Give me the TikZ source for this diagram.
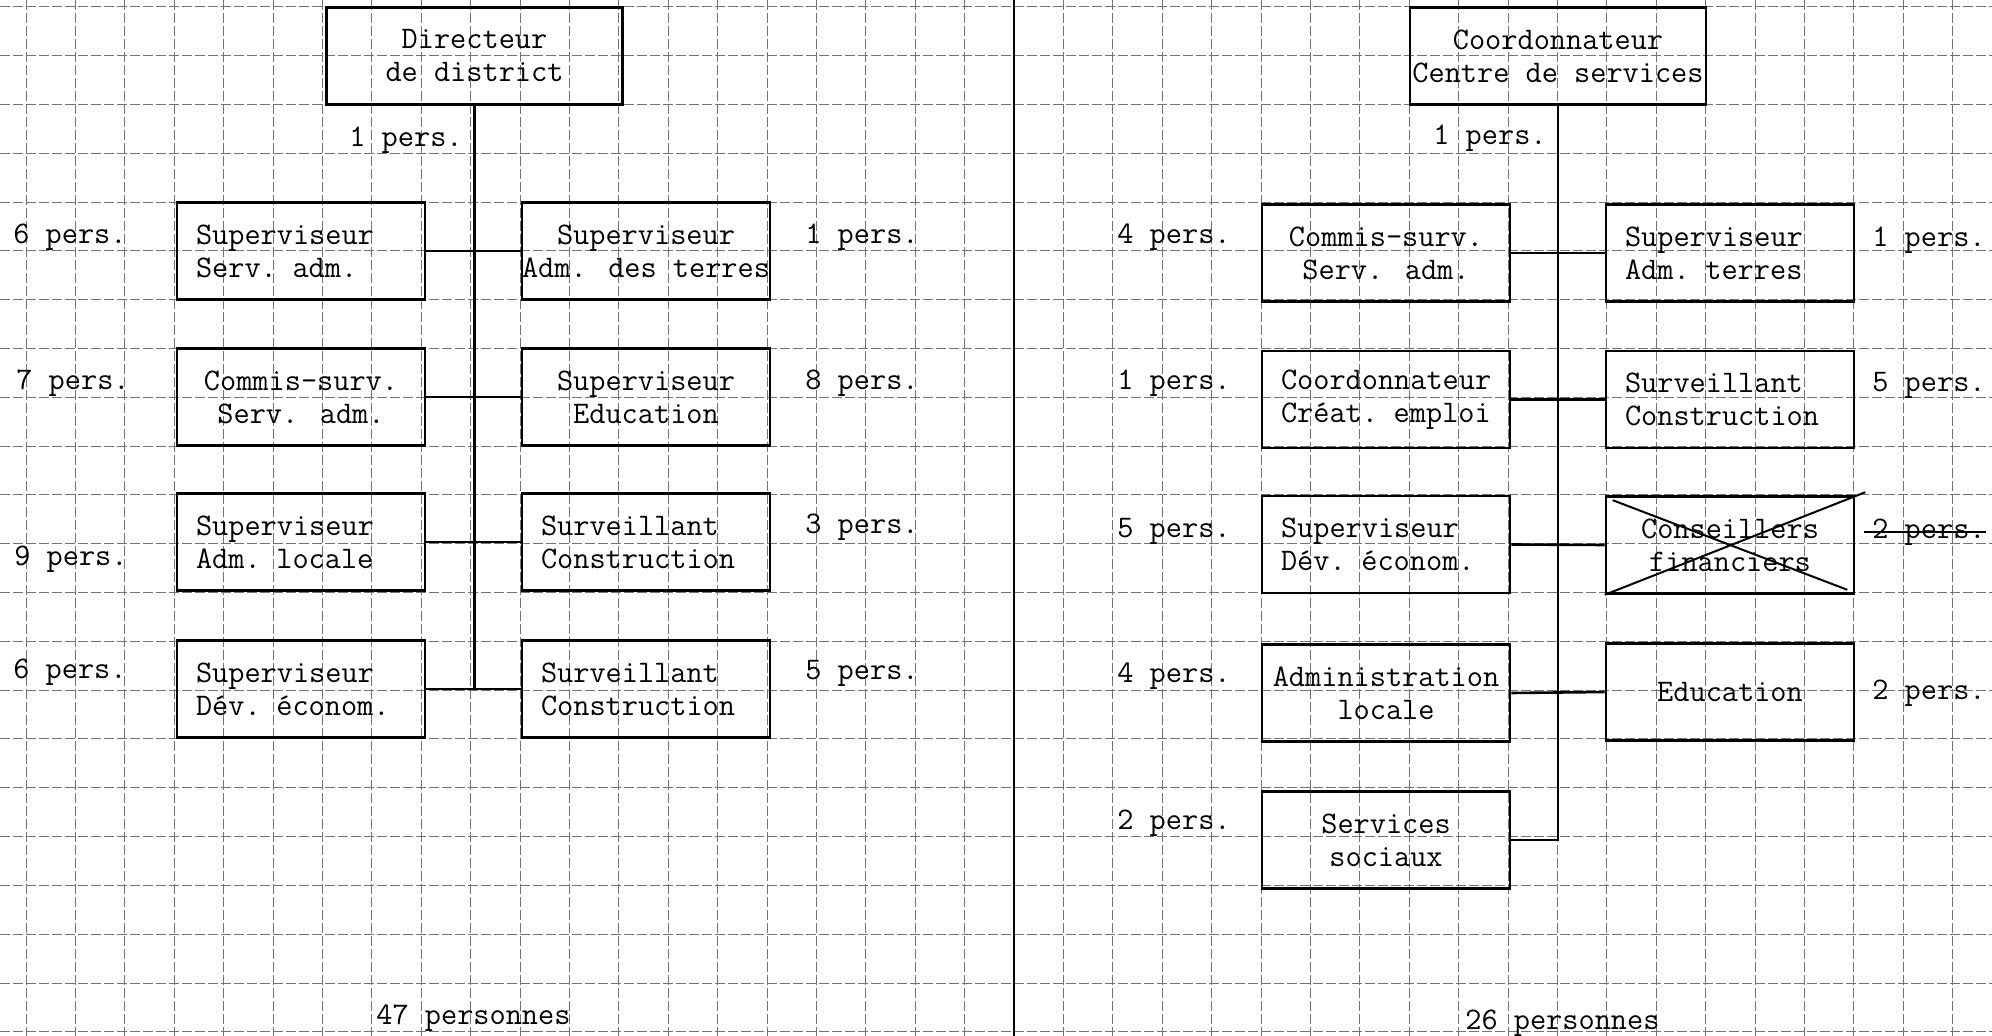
\documentclass[tikz,border=0pt]{standalone}
\usepackage{tikz}
\usetikzlibrary{calc,positioning}

\newcommand{\dactylo}{\fontsize{15.7}{16.5}\selectfont\ttfamily}

\begin{document}
\begin{tikzpicture}[x=0.5pt, y=-0.5pt,
  poste/.style={draw, line width=1.3pt, inner sep=0pt, minimum width=124pt,
    minimum height=48.5pt, align=center, font=\dactylo},
  chef/.style={poste, minimum width=148pt},
  gauche/.style={align=left, text width=105pt},
  effectif/.style={anchor=west, inner sep=0pt, font=\dactylo},
  lien/.style={line width=1.3pt},
  quadrille/.style={black!55, line width=0.5pt, dash pattern=on 5pt off 1.5pt}]
\useasboundingbox (0,0) rectangle (1992,1036);
\clip (0,0) rectangle (1992,1036);

\foreach \k in {0,...,39}
  \draw[quadrille] ({26+49.4*\k},0) -- ({26+49.4*\k},1036);
\foreach \k in {0,...,21}
  \draw[quadrille] (0,{7+48.8*\k}) -- (1992,{7+48.8*\k});
\draw[line width=1pt] (1014,0) -- (1014,1036);

% district
\node[chef] (Dir) at (474.5,56) {Directeur\\de district};
\node[poste,gauche] (Gauche1) at (301,251) {Superviseur\\Serv. adm.};
\node[poste] (Gauche2) at (301,397) {Commis-surv.\\Serv. adm.};
\node[poste,gauche] (Gauche3) at (301,542) {Superviseur\\Adm. locale};
\node[poste,gauche] (Gauche4) at (301,689) {Superviseur\\Dév. économ.};
\node[poste] (Droite1) at (646,251) {Superviseur\\Adm. des terres};
\node[poste] (Droite2) at (646,397) {Superviseur\\Education};
\node[poste,gauche] (Droite3) at (646,542) {Surveillant\\Construction};
\node[poste,gauche] (Droite4) at (646,689) {Surveillant\\Construction};

\draw[lien] (Dir.south) -- (Dir.south |- Gauche4.east);
\foreach \i in {1,...,4}
  \draw[lien] (Gauche\i.east) -- (Droite\i.west);

\node[effectif] (PersDir) at (349,140) {1 pers.};
\node[effectif] (PersG1) at (13,237) {6 pers.};
\node[effectif] (PersG2) at (16,383) {7 pers.};
\node[effectif] (PersG3) at (14,559) {9 pers.};
\node[effectif] (PersG4) at (13,672) {6 pers.};
\node[effectif] (PersD1) at (805,237) {1 pers.};
\node[effectif] (PersD2) at (805,383) {8 pers.};
\node[effectif] (PersD3) at (805,527) {3 pers.};
\node[effectif] (PersD4) at (805,673) {5 pers.};
\node[effectif] (Total1) at (376,1018) {47 personnes};

% centre de services
\node[chef] (Coord) at (1558,56) {Coordonnateur\\Centre de services};
\node[poste] (CGauche1) at (1386,253) {Commis-surv.\\Serv. adm.};
\node[poste,gauche] (CGauche2) at (1386,399.5) {Coordonnateur\\Créat. emploi};
\node[poste,gauche] (CGauche3) at (1386,544.5) {Superviseur\\Dév. économ.};
\node[poste] (CGauche4) at (1386,693) {Administration\\locale};
\node[poste] (CGauche5) at (1386,840) {Services\\sociaux};
\node[poste,gauche] (CDroite1) at (1730,253) {Superviseur\\Adm. terres};
\node[poste,gauche] (CDroite2) at (1730,399.5) {Surveillant\\Construction};
\node[poste] (CDroite3) at (1730,545) {Conseillers\\financiers};
\node[poste] (CDroite4) at (1730,692) {Education};

\draw[lien] (Coord.south) -- (Coord.south |- CGauche5.east) -- (CGauche5.east);
\foreach \i in {1,...,4}
  \draw[lien] (CGauche\i.east) -- (CDroite\i.west);
\draw[line width=1pt] ($(CDroite3.north west)+(8,5)$) -- ($(CDroite3.south east)+(-8,-5)$)
  (CDroite3.south west) -- ($(CDroite3.north east)+(10,-3)$);

\node[effectif] (PersCoord) at (1433,138) {1 pers.};
\node[effectif] (PersCG1) at (1117,237) {4 pers.};
\node[effectif] (PersCG2) at (1117,383) {1 pers.};
\node[effectif] (PersCG3) at (1117,531) {5 pers.};
\node[effectif] (PersCG4) at (1117,676) {4 pers.};
\node[effectif] (PersCG5) at (1117,823) {2 pers.};
\node[effectif] (PersCD1) at (1872,240) {1 pers.};
\node[effectif] (PersCD2) at (1872,385) {5 pers.};
\node[effectif] (PersCD3) at (1872,532) {2 pers.};
\node[effectif] (PersCD4) at (1872,693) {2 pers.};
\draw[line width=1pt] ($(PersCD3.west)+(-8,0)$) -- (PersCD3.east);
\node[effectif] (Total2) at (1465,1023) {26 personnes};
\end{tikzpicture}
\end{document}
